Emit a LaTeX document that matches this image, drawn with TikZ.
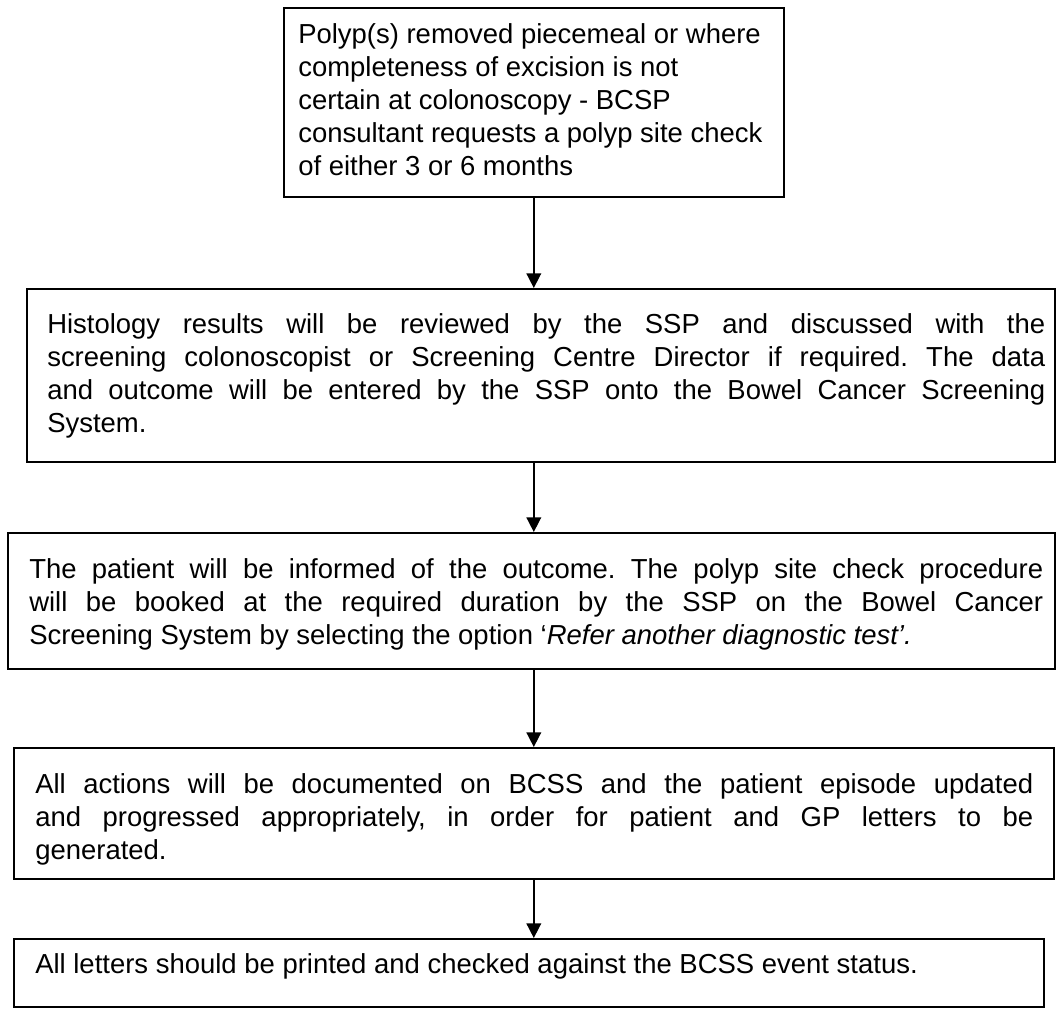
\documentclass[tikz,border=0pt]{standalone}
\usepackage{fontspec}
\setmainfont{Liberation Sans}
\usetikzlibrary{arrows.meta}
\begin{document}
\frenchspacing
\begin{tikzpicture}[x=0.75pt,y=-0.75pt,
  boxst/.style={draw=black,line width=1.2pt,inner sep=0pt,anchor=north west,fill=none},
  txt/.style={inner sep=0pt,anchor=north west,align=left,font=\fontsize{20.6}{24.75}\selectfont\frenchspacing},
  arr/.style={line width=1.2pt,-{Triangle[width=11pt,length=11pt]}}]
\useasboundingbox (0,0) rectangle (1056,1008);
\fill[white] (0,0) rectangle (1056,1008);
% boxes
\node[boxst,minimum width=375pt,minimum height=141.75pt] (b1) at (283,7) {};
\node[boxst,minimum width=771pt,minimum height=129.75pt] (b2) at (26,288) {};
\node[boxst,minimum width=785.25pt,minimum height=102pt] (b3) at (7,532) {};
\node[boxst,minimum width=780pt,minimum height=98.25pt] (b4) at (13,747) {};
\node[boxst,minimum width=772.5pt,minimum height=51pt] (b5) at (13,938) {};
% texts
\node[txt] (t1) at (298,19) {\rule{0pt}{18pt}Polyp(s) removed piecemeal or where\\
completeness of excision is not\\
certain at colonoscopy - BCSP\\
consultant requests a polyp site check\\
of either 3 or 6 months};
\node[txt] (t2) at (47,309) {\rule{0pt}{18pt}\hbox to 748.5pt{Histology results will be reviewed by the SSP and discussed with the}\\
\hbox to 748.5pt{screening colonoscopist or Screening Centre Director if required. The data}\\
\hbox to 748.5pt{and outcome will be entered by the SSP onto the Bowel Cancer Screening}\\
System.};
\node[txt] (t3) at (29,554) {\rule{0pt}{18pt}\hbox to 760.5pt{The patient will be informed of the outcome. The polyp site check procedure}\\
\hbox to 760.5pt{will be booked at the required duration by the SSP on the Bowel Cancer}\\
Screening System by selecting the option ‘\textit{Refer another diagnostic test’.}};
\node[txt] (t4) at (35,769) {\rule{0pt}{18pt}\hbox to 748.5pt{All actions will be documented on BCSS and the patient episode updated}\\
\hbox to 748.5pt{and progressed appropriately, in order for patient and GP letters to be}\\
generated.};
\node[txt] (t5) at (35,949) {\rule{0pt}{18pt}All letters should be printed and checked against the BCSS event status.};
% arrows
\draw[arr] (b1.south) -- (b1.south |- b2.north);
\draw[arr] (b1.south |- b2.south) -- (b1.south |- b3.north);
\draw[arr] (b1.south |- b3.south) -- (b1.south |- b4.north);
\draw[arr] (b1.south |- b4.south) -- (b1.south |- b5.north);
\end{tikzpicture}
\end{document}
